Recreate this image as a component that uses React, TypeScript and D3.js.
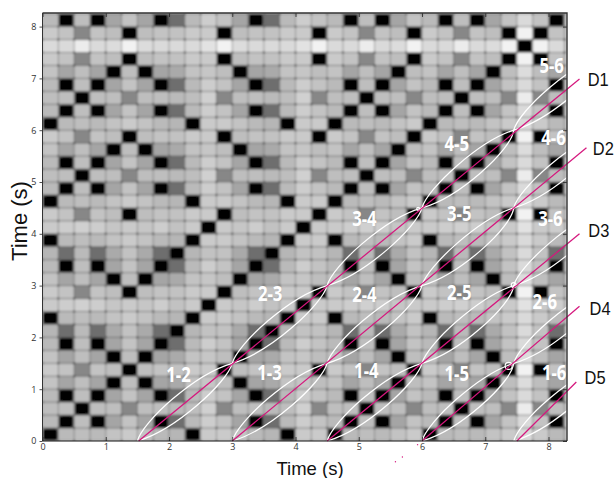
import { useEffect, useRef } from 'react';
import * as d3 from 'd3';

// note heard in each 0.25 s slot
const notes = 'ABCBDEDBHAFEDBHAFEABCBDEABCBDEGEB'.split('');
const noteNames = ['A', 'B', 'C', 'D', 'E', 'F', 'G', 'H'];
// gray level for each pair of notes (same order as noteNames)
const grayTable = [
  [0, 186, 190, 195, 202, 202, 218, 182],
  [186, 0, 190, 165, 195, 205, 218, 110],
  [190, 190, 0, 190, 135, 208, 236, 186],
  [195, 165, 190, 0, 190, 198, 220, 170],
  [202, 195, 135, 190, 0, 202, 242, 194],
  [202, 205, 208, 198, 202, 0, 226, 194],
  [218, 218, 236, 220, 242, 226, 0, 218],
  [182, 110, 186, 170, 194, 194, 218, 0],
];

const xBounds = [0, 1.5, 3, 4.5, 6, 7.45, 8.95];
const yBounds = [0, 1.5, 3, 4.5, 6, 7.5];
const lensPairs = ['1-2', '1-3', '1-4', '1-5', '1-6', '2-3', '2-4', '2-5', '2-6', '3-4', '3-5', '3-6', '4-5', '4-6', '5-6'];
const lensLabelX = [2.15, 3.59, 5.12, 6.55, 8.09, 3.6, 5.09, 6.59, 7.94, 5.09, 6.59, 8.03, 6.55, 8.08, 8.05];
const lensLabelY = [1.29, 1.33, 1.37, 1.31, 1.33, 2.86, 2.84, 2.88, 2.7, 4.31, 4.4, 4.31, 5.75, 5.87, 7.26];

const diagNames = ['D1', 'D2', 'D3', 'D4', 'D5'];
const diagStart = [1.52, 3, 4.5, 6, 7.5];
const diagEndX = [8.49, 8.6, 8.49, 8.49, 8.44];
const diagEndY = [6.99, 5.66, 4.0, 2.6, 1.14];
const diagLabelX = [8.62, 8.7, 8.63, 8.65, 8.57];
const diagLabelY = [6.85, 5.52, 3.94, 2.43, 1.1];

const ringX = [7.37, 7.45, 5.94];
const ringY = [1.45, 3.01, 4.48];
const ringR = [3.5, 2.5, 1.5];

const strayX = [5.93, 5.69, 5.58];
const strayY = [-0.07, -0.31, -0.4];

const ticksX = [0, 1, 2, 3, 4, 5, 6, 7, 8];
const ticksY = [0, 1, 2, 3, 4, 5, 6, 7, 8];

const SLOT = 0.25;
const WIDTH = 616;
const HEIGHT = 478;
const margin = { top: 13, right: 49, bottom: 37, left: 42.5 };

export default function App() {
  const svgRef = useRef<SVGSVGElement>(null);

  useEffect(() => {
    if (!svgRef.current) return;
    const svg = d3.select(svgRef.current);
    svg.selectAll('*').remove();

    const innerWidth = WIDTH - margin.left - margin.right;
    const innerHeight = HEIGHT - margin.top - margin.bottom;
    const x = d3.scaleLinear().domain([0, innerWidth / 63.25]).range([margin.left, margin.left + innerWidth]);
    const y = d3.scaleLinear().domain([0, innerHeight / 51.8]).range([margin.top + innerHeight, margin.top]);

    const defs = svg.append('defs');
    defs.append('filter').attr('id', 'soft')
      .attr('x', 0).attr('y', 0).attr('width', 1).attr('height', 1)
      .append('feGaussianBlur').attr('stdDeviation', 0.8);
    defs.append('clipPath').attr('id', 'plot')
      .append('rect')
      .attr('x', margin.left).attr('y', margin.top)
      .attr('width', innerWidth).attr('height', innerHeight);

    // similarity matrix
    const matrix = svg.append('g').attr('clip-path', 'url(#plot)');
    const cells = matrix.append('g').attr('filter', 'url(#soft)');
    cells.append('rect')
      .attr('x', margin.left).attr('y', margin.top)
      .attr('width', innerWidth).attr('height', innerHeight)
      .attr('fill', '#c0c0c0');
    notes.forEach((rowNote, row) => {
      notes.forEach((colNote, col) => {
        const v = grayTable[noteNames.indexOf(rowNote)][noteNames.indexOf(colNote)];
        const x0 = x(col * SLOT);
        const x1 = x((col + 1) * SLOT);
        const y0 = y((row + 1) * SLOT);
        const y1 = y(row * SLOT);
        if (v > 0) {
          cells.append('rect')
            .attr('x', x0).attr('y', y0)
            .attr('width', x1 - x0).attr('height', y1 - y0)
            .attr('fill', d3.rgb(v, v, v).formatHex());
        }
      });
    });
    // grid between the slots, darker where the lines cross
    d3.range(0, notes.length + 1).forEach(k => {
      cells.append('line')
        .attr('x1', x(k * SLOT)).attr('x2', x(k * SLOT))
        .attr('y1', margin.top).attr('y2', y(0))
        .attr('stroke', '#222').attr('stroke-opacity', 0.33).attr('stroke-width', 1);
      cells.append('line')
        .attr('y1', y(k * SLOT)).attr('y2', y(k * SLOT))
        .attr('x1', margin.left).attr('x2', x.range()[1])
        .attr('stroke', '#222').attr('stroke-opacity', 0.42).attr('stroke-width', 1);
      d3.range(0, notes.length + 1).forEach(m => {
        cells.append('circle')
          .attr('cx', x(m * SLOT)).attr('cy', y(k * SLOT)).attr('r', 1.2)
          .attr('fill', '#222').attr('fill-opacity', 0.55);
      });
    });
    notes.forEach((rowNote, row) => {
      notes.forEach((colNote, col) => {
        if (rowNote !== colNote) return;
        const x0 = x(col * SLOT);
        const x1 = x((col + 1) * SLOT);
        const y0 = y((row + 1) * SLOT);
        const y1 = y(row * SLOT);
        cells.append('rect')
          .attr('x', x0 + 0.6).attr('y', y0 + 0.4)
          .attr('width', x1 - x0 - 1.2).attr('height', y1 - y0 - 0.8)
          .attr('rx', 2.5)
          .attr('fill', '#000');
      });
    });

    // white lenses
    const lenses = svg.append('g').attr('clip-path', 'url(#plot)');
    lensPairs.forEach(pair => {
      const [i, j] = pair.split('-').map(Number);
      const t0 = xBounds[j - 1];
      const t1 = xBounds[j];
      const v0 = yBounds[i - 1];
      const v1 = yBounds[i];
      const p = d3.path();
      p.moveTo(x(t0), y(v0));
      p.bezierCurveTo(x(t0 + 0.08), y(v0 + 0.37), x(t0 + 0.9), y(v0 + 1.29), x(t1), y(v1));
      p.bezierCurveTo(x(t0 + 1.42), y(v0 + 1.13), x(t0 + 0.6), y(v0 + 0.21), x(t0), y(v0));
      lenses.append('path')
        .attr('d', p.toString())
        .attr('fill', 'none')
        .attr('stroke', '#fff')
        .attr('stroke-width', 1.25);
    });
    ringX.forEach((rx, k) => {
      lenses.append('circle')
        .attr('cx', x(rx)).attr('cy', y(ringY[k])).attr('r', ringR[k])
        .attr('fill', 'none').attr('stroke', '#fff').attr('stroke-width', 1.2);
    });

    // magenta diagonals
    diagNames.forEach((name, k) => {
      svg.append('line')
        .attr('x1', x(diagStart[k])).attr('y1', y(0))
        .attr('x2', x(diagEndX[k])).attr('y2', y(diagEndY[k]))
        .attr('stroke', '#d5177d').attr('stroke-width', 1.25);
      svg.append('text')
        .attr('x', x(diagLabelX[k])).attr('y', y(diagLabelY[k]))
        .attr('textLength', 21).attr('lengthAdjust', 'spacingAndGlyphs')
        .style('font-family', '"Liberation Sans", Arial, sans-serif')
        .style('font-size', '18.5px')
        .style('fill', '#111')
        .text(name);
    });
    strayX.forEach((sx, k) => {
      svg.append('circle')
        .attr('cx', x(sx)).attr('cy', y(strayY[k])).attr('r', 0.7)
        .attr('fill', '#d5177d');
    });

    // lens labels
    lensPairs.forEach((pair, k) => {
      svg.append('text')
        .attr('x', x(lensLabelX[k])).attr('y', y(lensLabelY[k]))
        .attr('dy', '0.36em')
        .attr('text-anchor', 'middle')
        .attr('textLength', 24.5).attr('lengthAdjust', 'spacingAndGlyphs')
        .style('font-family', '"Open Sans", sans-serif')
        .style('font-size', '22px')
        .style('font-weight', 700)
        .style('fill', '#fff')
        .text(pair);
    });

    // axes
    const styleAxis = (g: d3.Selection<SVGGElement, unknown, null, undefined>) => {
      g.select('.domain').remove();
      g.selectAll('line').attr('stroke', '#222').attr('stroke-width', 0.8);
      g.selectAll('text')
        .style('font-family', '"Open Sans", sans-serif')
        .style('font-size', '9px')
        .style('fill', '#333');
    };
    svg.append('g')
      .attr('transform', `translate(0,${y(0)})`)
      .call(d3.axisBottom(x).tickValues(ticksX).tickFormat(d3.format('d')).tickSizeInner(-4).tickSizeOuter(0).tickPadding(3))
      .call(styleAxis);
    svg.append('g')
      .attr('transform', `translate(${x.range()[0]},0)`)
      .call(d3.axisLeft(y).tickValues(ticksY).tickFormat(d3.format('d')).tickSizeInner(3).tickSizeOuter(0).tickPadding(3))
      .call(styleAxis);
    svg.append('g')
      .attr('transform', `translate(0,${margin.top})`)
      .call(d3.axisTop(x).tickValues(ticksX).tickFormat(() => '').tickSizeInner(-4).tickSizeOuter(0))
      .call(styleAxis);
    svg.append('g')
      .attr('transform', `translate(${x.range()[1]},0)`)
      .call(d3.axisRight(y).tickValues(ticksY).tickFormat(() => '').tickSizeInner(-4).tickSizeOuter(0))
      .call(styleAxis);

    // frame
    svg.append('path')
      .attr('d', `M${x.range()[0]},${margin.top}H${x.range()[1]}V${y(0)}`)
      .attr('fill', 'none').attr('stroke', '#333').attr('stroke-width', 1.4);
    svg.append('line')
      .attr('x1', x.range()[0]).attr('x2', x.range()[0])
      .attr('y1', margin.top).attr('y2', y(0))
      .attr('stroke', '#333').attr('stroke-width', 1);
    svg.append('line')
      .attr('x1', x.range()[0]).attr('x2', x.range()[1])
      .attr('y1', y(0)).attr('y2', y(0))
      .attr('stroke', '#111').attr('stroke-width', 1.2);

    svg.append('text')
      .attr('x', 310).attr('y', 475)
      .attr('text-anchor', 'middle')
      .style('font-family', '"Liberation Sans", Arial, sans-serif')
      .style('font-size', '18.5px')
      .style('fill', '#111')
      .text('Time (s)');
    svg.append('text')
      .attr('transform', 'translate(27,221) rotate(-90)')
      .attr('text-anchor', 'middle')
      .style('font-family', '"Liberation Sans", Arial, sans-serif')
      .style('font-size', '22px')
      .style('fill', '#111')
      .text('Time (s)');
  }, []);

  return (
    <svg
      ref={svgRef}
      width={WIDTH}
      height={HEIGHT}
      viewBox={`0 0 ${WIDTH} ${HEIGHT}`}
      style={{ position: 'absolute', left: 0, top: 0, background: '#fff' }}
    />
  );
}
